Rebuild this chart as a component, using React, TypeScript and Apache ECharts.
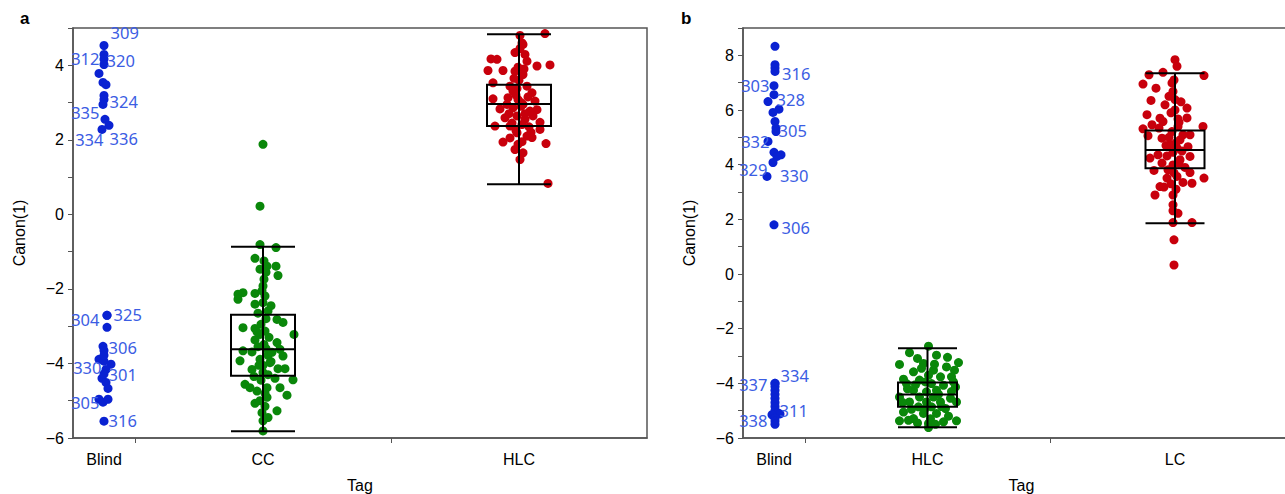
import React, { useEffect, useRef } from "react";
import * as echarts from "echarts";

// ---------- categories & layout-free data ----------
const leftCategories = ["Blind", "CC", "HLC"];
const rightCategories = ["Blind", "HLC", "LC"];
// group widths on the x axis (proportional to group size, JMP style)
const leftGroupWidths = [62, 256, 256];
const rightGroupWidths = [62, 245, 250];

const yTicksLeft = [-6, -4, -2, 0, 2, 4];
const yTicksRight = [-6, -4, -2, 0, 2, 4, 6, 8];

// [jitter, Canon(1), sample id]
const leftBlind: [number, number, string][] = [
  [0, 4.53, "309"], [0, 4.29, "312"], [0, 4.16, "320"], [0, 4.02, ""], [-5, 3.78, ""],
  [-1, 3.54, ""], [2, 3.48, ""], [0, 3.19, ""], [0, 3.08, "324"], [-1, 2.95, "335"],
  [1, 2.55, ""], [5, 2.39, "336"], [-2, 2.28, "334"],
  [3, -2.71, "325"], [3, -2.71, "304"], [3, -3.03, ""], [-1, -3.54, "306"], [0, -3.65, ""],
  [-5, -3.89, ""], [0, -3.94, "330"], [7, -4.02, ""], [2, -4.16, "301"], [-2, -4.4, ""],
  [2, -4.51, ""], [4, -4.67, ""], [-5, -4.96, ""], [-1, -5.04, "305"], [4, -4.96, ""],
  [0, -4.28, ""], [0, -3.78, ""], [0, -5.55, "316"],
];

const rightBlind: [number, number, string][] = [
  [1, 8.33, ""], [1, 7.66, ""], [1, 7.54, ""], [1, 7.41, "316"], [0, 6.89, "303"],
  [0, 6.56, "328"], [-6, 6.31, ""], [5, 6.03, ""], [-1, 5.91, ""], [1, 5.58, ""],
  [2, 5.34, "305"], [2, 5.21, ""], [-6, 4.85, "332"], [0, 4.45, ""], [7, 4.36, ""],
  [3, 4.3, ""], [-1, 4.08, "330"], [-7, 3.57, "329"], [0, 1.8, "306"],
  [1, -4.0, "334"], [1, -4.0, "337"], [1, -4.12, ""], [1, -4.25, ""], [1, -4.4, ""],
  [1, -4.55, ""], [1, -4.7, ""], [1, -4.85, ""], [1, -5.0, "311"], [4, -5.08, ""],
  [6, -5.12, ""], [-2, -5.15, ""], [1, -5.27, "338"], [1, -5.38, ""], [1, -5.5, ""],
];

const leftCC: [number, number][] = [
  [0, 1.88], [-3, 0.22], [-3, -0.81], [13, -0.89], [-8, -1.18], [1, -1.25], [4, -1.39],
  [13, -1.39], [-3, -1.47], [15, -1.64], [1, -1.74], [0, -1.92], [-25, -2.14], [-20, -2.1],
  [-25, -2.28], [-8, -2.12], [2, -2.19], [-8, -2.41], [0, -2.37], [5, -2.59], [14, -2.82],
  [20, -2.9], [-20, -3.04], [-8, -3.06], [2, -3.13], [-3, -3.22], [31, -3.22], [14, -3.44],
  [-8, -3.37], [1, -3.49], [-20, -3.66], [-11, -3.69], [17, -3.62], [5, -3.78], [20, -3.8],
  [-23, -3.93], [-3, -3.89], [7, -3.98], [-11, -4.16], [15, -4.14], [22, -4.14], [0, -4.24],
  [30, -4.44], [-18, -4.56], [-13, -4.65], [-6, -4.74], [4, -4.65], [17, -4.65], [24, -4.85],
  [4, -4.91], [-8, -5.07], [14, -5.27], [-1, -5.32], [0, -5.54], [0, -5.81],
  [3, -2.8], [-2, -2.95], [6, -3.3], [-5, -3.55], [3, -3.6], [8, -3.95], [-4, -4.05],
  [5, -4.3], [-2, -4.45], [2, -4.8], [-3, -5.0], [2, -5.15], [-5, -2.65], [8, -2.45],
  [-1, -2.05], [3, -1.55], [-6, -3.15], [9, -3.7], [0, -4.05], [-9, -4.35], [12, -4.4],
  [5, -5.45],
];

const leftHLC: [number, number][] = [
  [26, 4.85], [1, 4.8], [3, 4.6], [4, 4.56], [-28, 4.17], [-22, 4.16], [-4, 4.34], [6, 4.29],
  [8, 4.11], [-31, 3.86], [-16, 3.86], [18, 3.98], [31, 4.01], [-4, 3.84], [4, 3.75],
  [-26, 3.53], [-9, 3.44], [8, 3.44], [-6, 3.31], [13, 3.26], [-26, 3.1], [-11, 3.13],
  [-1, 3.08], [16, 3.04], [-12, 2.95], [4, 2.95], [-19, 2.83], [-6, 2.86], [18, 2.81],
  [11, 2.77], [-14, 2.59], [-2, 2.64], [14, 2.64], [6, 2.55], [21, 2.47], [-24, 2.37],
  [-9, 2.37], [3, 2.41], [21, 2.28], [-2, 2.19], [8, 2.1], [13, 2.06], [-16, 1.94], [27, 1.9],
  [-1, 1.88], [-4, 1.74], [4, 1.65], [1, 1.47], [29, 0.83],
  [0, 3.6], [-3, 3.2], [2, 3.0], [6, 2.7], [-7, 2.45], [10, 2.35], [-3, 2.25], [2, 2.9],
  [-5, 3.65], [5, 3.9], [1, 4.45], [-9, 2.05], [9, 3.15], [-2, 3.38], [12, 2.2], [-10, 2.7],
  [3, 1.95], [-1, 3.95],
];

const rightHLC: [number, number][] = [
  [1, -2.64], [-18, -2.88], [9, -2.97], [-10, -3.09], [-4, -3.27], [-28, -3.31], [31, -3.24],
  [19, -3.4], [27, -3.52], [6, -3.52], [-14, -3.58], [1, -3.7], [13, -3.76], [24, -3.76],
  [-8, -3.88], [-21, -4.01], [4, -4.01], [16, -4.07], [28, -4.13], [-14, -4.25], [-1, -4.31],
  [9, -4.25], [-28, -4.5], [-8, -4.5], [6, -4.5], [23, -4.55], [-18, -4.68], [-1, -4.68],
  [13, -4.68], [29, -4.68], [-9, -4.86], [4, -4.86], [18, -4.92], [-24, -5.05], [-4, -5.1],
  [9, -5.1], [-14, -5.29], [-28, -5.37], [29, -5.37], [-19, -5.35], [1, -5.47], [16, -5.41],
  [1, -5.62],
  [-6, -3.45], [20, -3.05], [-24, -3.85], [11, -4.4], [-12, -4.05], [24, -4.3], [-3, -4.95],
  [21, -5.2], [-10, -5.45], [7, -3.3], [-20, -4.2], [3, -5.3], [14, -4.85], [-16, -4.95],
  [26, -3.95], [-2, -3.95], [8, -5.5], [-25, -4.7],
];

const rightLC: [number, number][] = [
  [0, 7.84], [2, 7.6], [-26, 7.29], [-12, 7.38], [29, 7.26], [-32, 6.95], [-3, 6.99],
  [-19, 6.8], [-2, 6.68], [-24, 6.35], [0, 6.38], [-10, 6.19], [12, 6.07], [-28, 5.83],
  [12, 5.71], [-12, 5.58], [3, 5.67], [-23, 5.46], [-32, 5.31], [-16, 5.34], [28, 5.4],
  [-3, 5.21], [-27, 5.06], [-13, 4.97], [8, 5.09], [15, 5.09], [5, 4.91], [-5, 4.73],
  [13, 4.66], [2, 4.61], [-25, 4.24], [-17, 4.36], [-8, 4.32], [15, 4.3], [5, 4.18],
  [-13, 4.06], [-2, 3.99], [-21, 3.79], [-7, 3.81], [2, 3.57], [15, 3.71], [29, 3.51],
  [-8, 3.51], [8, 3.35], [17, 3.32], [-15, 3.2], [-11, 3.18], [-20, 2.89], [-2, 2.89],
  [-2, 2.53], [-2, 2.31], [3, 2.22], [-2, 1.88], [17, 1.88], [-1, 1.25], [-1, 0.33],
  [0, 6.0], [-4, 5.9], [3, 5.4], [-6, 5.0], [1, 4.8], [-2, 4.45], [7, 4.5], [-9, 4.7],
  [4, 4.05], [-1, 3.7], [10, 3.9], [-4, 3.3], [1, 3.1], [-6, 6.5], [4, 5.55], [-1, 7.1],
  [6, 6.3], [-15, 5.7],
];

// box stats: [min, q1, median, q3, max]
const leftBoxCC = [-5.82, -4.33, -3.62, -2.69, -0.87];
const leftBoxHLC = [0.81, 2.37, 2.96, 3.48, 4.83];
const rightBoxHLC = [-5.61, -4.86, -4.41, -3.97, -2.72];
const rightBoxLC = [1.86, 3.87, 4.54, 5.25, 7.34];

// ---------- styling ----------
const BLUE = "#0a22d2";
const LABEL_BLUE = "#3b5de3";
const GREEN = "#0a870a";
const RED = "#c8000c";
const AXIS = "#555";
const FONT = "Liberation Sans";

// label placement per sample id: [side, offsetX, offsetY]
const leftLabelPos: Record<string, [string, number, number]> = {
  "309": ["right", 2, -13], "312": ["left", 0, 4], "320": ["right", -2, 1],
  "324": ["right", 1, 2], "335": ["left", 1, 8], "334": ["left", 6, 10],
  "336": ["right", -4, 13], "325": ["right", 2, -1], "304": ["left", -3, 4],
  "306": ["right", 1, 1], "330": ["left", 2, 6], "301": ["right", -2, 5],
  "305": ["left", 1, 0], "316": ["right", 0, -1],
};
const rightLabelPos: Record<string, [string, number, number]> = {
  "316": ["right", 2.5, 2], "303": ["left", 0, 0], "328": ["right", -2, 4.5],
  "305": ["right", -2, 2], "332": ["left", 6, 0], "329": ["left", 5, -7],
  "330": ["right", 2.5, 13], "306": ["right", 3, 3], "334": ["right", 1, -8],
  "337": ["left", -3, 1], "311": ["right", 0, 0], "338": ["left", -3, 2],
};

function centers(widths: number[]) {
  const c: number[] = [];
  let acc = 0;
  widths.forEach((w) => { c.push(acc + w / 2); acc += w; });
  return c;
}
function bounds(widths: number[]) {
  const b: number[] = [];
  let acc = 0;
  widths.slice(0, -1).forEach((w) => { acc += w; b.push(acc); });
  return b;
}
const sum = (a: number[]) => a.reduce((s, v) => s + v, 0);
const minus = (v: number) => (v < 0 ? "\u2212" + Math.abs(v) : String(v));

function blindData(pts: [number, number, string][], cx: number, pos: Record<string, [string, number, number]>) {
  return pts.map(([dx, y, name]) => {
    const item: any = { value: [cx + dx, y], name };
    if (name && pos[name]) {
      const [side, ox, oy] = pos[name];
      item.label = {
        show: true, formatter: name, position: side, distance: 0, offset: [ox, oy],
        color: LABEL_BLUE, fontSize: 16.5, fontFamily: "Noto Sans",
      };
    }
    return item;
  });
}
const jitterData = (pts: [number, number][], cx: number) => pts.map(([dx, y]) => [cx + dx, y]);

function boxSeries(idx: number, boxes: { c: number; s: number[] }[], hw: number) {
  return {
    type: "custom", xAxisIndex: idx, yAxisIndex: idx, z: 5, silent: true,
    data: boxes.map((b) => [b.c, ...b.s, hw]),
    renderItem: (_p: any, api: any) => {
      const c = api.value(0), mn = api.value(1), q1 = api.value(2), md = api.value(3),
        q3 = api.value(4), mx = api.value(5), h = api.value(6);
      const L = (y: number) => api.coord([c - h, y]);
      const R = (y: number) => api.coord([c + h, y]);
      const C = (y: number) => api.coord([c, y]);
      const st = { stroke: "#000", lineWidth: 2, fill: null };
      const hl = (y: number) => ({ type: "line", shape: { x1: L(y)[0], y1: L(y)[1], x2: R(y)[0], y2: R(y)[1] }, style: st });
      const top = R(q3), bot = L(q1);
      return {
        type: "group",
        children: [
          { type: "line", shape: { x1: C(mn)[0], y1: C(mn)[1], x2: C(mx)[0], y2: C(mx)[1] }, style: st },
          { type: "rect", shape: { x: bot[0], y: top[1], width: top[0] - bot[0], height: bot[1] - top[1] }, style: { stroke: "#000", lineWidth: 2, fill: "none" } },
          hl(mn), hl(mx), hl(md),
        ],
      };
    },
  };
}

function xAxisFor(idx: number, cats: string[], widths: number[]) {
  const cs = centers(widths);
  return {
    type: "value", gridIndex: idx, min: 0, max: sum(widths),
    name: "Tag", nameLocation: "middle", nameGap: 39,
    nameTextStyle: { fontFamily: FONT, fontSize: 16, color: "#000" },
    axisLine: { show: true, onZero: false, lineStyle: { color: AXIS, width: 1.5 } },
    axisTick: { show: true, customValues: bounds(widths), length: 5, lineStyle: { color: AXIS } },
    axisLabel: {
      customValues: cs, margin: 13, fontFamily: FONT, fontSize: 16, color: "#000",
      formatter: (v: number) => cats[cs.indexOf(v)] ?? "",
    },
    splitLine: { show: false },
  };
}
function yAxisFor(idx: number, min: number, max: number, ticks: number[]) {
  const all: number[] = [];
  for (let v = min; v <= max; v++) all.push(v);
  return {
    type: "value", gridIndex: idx, min, max,
    name: "Canon(1)", nameLocation: "middle", nameGap: 46,
    nameTextStyle: { fontFamily: FONT, fontSize: 16, color: "#000" },
    axisLine: { show: true, onZero: false, lineStyle: { color: AXIS, width: 1.5 } },
    axisTick: { show: true, customValues: all, length: 5, lineStyle: { color: AXIS } },
    axisLabel: { customValues: ticks, margin: 9, fontFamily: FONT, fontSize: 16, color: "#000", formatter: (v: number) => minus(v) },
    splitLine: { show: false },
  };
}

export default function App() {
  const ref = useRef<HTMLDivElement>(null);
  useEffect(() => {
    if (!ref.current) return;
    const chart = echarts.init(ref.current, null, { renderer: "svg" });
    const lc = centers(leftGroupWidths);
    const rc = centers(rightGroupWidths);
    const sym = 9;
    const scatter = (idx: number, data: any[], color: string) => ({
      type: "scatter", xAxisIndex: idx, yAxisIndex: idx, symbolSize: sym, z: 3,
      itemStyle: { color, opacity: 1 }, data, silent: true,
    });
    chart.setOption({
      animation: false,
      backgroundColor: "#fff",
      grid: [
        { left: 73, top: 28, width: sum(leftGroupWidths), height: 410, outerBoundsMode: "none", containLabel: false, show: true, borderColor: AXIS, borderWidth: 1.5, backgroundColor: "transparent" },
        { left: 743, top: 28, width: sum(rightGroupWidths), height: 410, outerBoundsMode: "none", containLabel: false, show: true, borderColor: AXIS, borderWidth: 1.5, backgroundColor: "transparent" },
      ],
      xAxis: [xAxisFor(0, leftCategories, leftGroupWidths), xAxisFor(1, rightCategories, rightGroupWidths)],
      yAxis: [yAxisFor(0, -6, 5, yTicksLeft), yAxisFor(1, -6, 9, yTicksRight)],
      graphic: [
        { type: "text", left: 20, top: 10, style: { text: "a", font: `bold 17px ${FONT}`, fill: "#000" } },
        { type: "text", left: 681, top: 10, style: { text: "b", font: `bold 17px ${FONT}`, fill: "#000" } },
      ],
      series: [
        scatter(0, blindData(leftBlind, lc[0], leftLabelPos), BLUE),
        scatter(0, jitterData(leftCC, lc[1]), GREEN),
        scatter(0, jitterData(leftHLC, lc[2]), RED),
        boxSeries(0, [{ c: lc[1], s: leftBoxCC }, { c: lc[2], s: leftBoxHLC }], 32),
        scatter(1, blindData(rightBlind, rc[0], rightLabelPos), BLUE),
        scatter(1, jitterData(rightHLC, rc[1]), GREEN),
        scatter(1, jitterData(rightLC, rc[2]), RED),
        boxSeries(1, [{ c: rc[1], s: rightBoxHLC }, { c: rc[2], s: rightBoxLC }], 29.5),
      ],
    });
    return () => chart.dispose();
  }, []);
  return <div ref={ref} style={{ position: "absolute", left: 0, top: 0, width: 1285, height: 494 }} />;
}
